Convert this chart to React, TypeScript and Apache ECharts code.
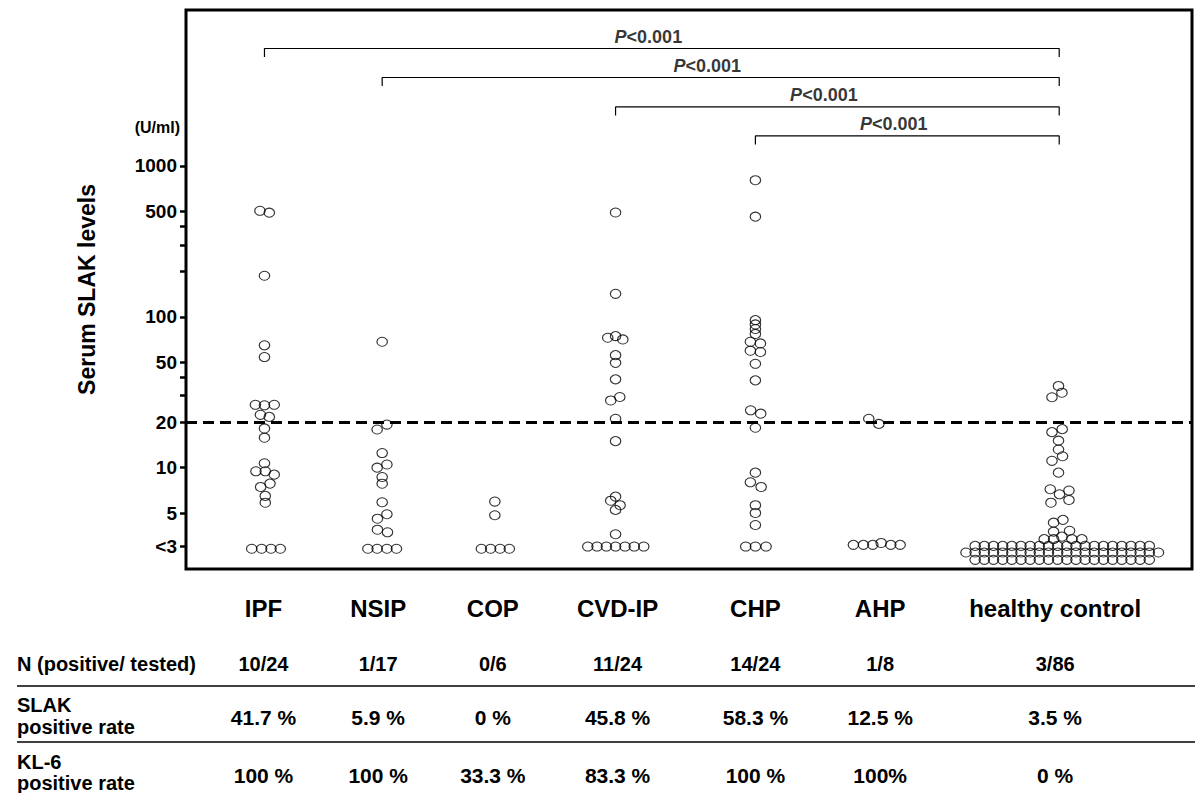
import React, { useEffect, useRef } from "react";
import * as echarts from "echarts";

const FONT = "'Liberation Sans', Arial, Helvetica, sans-serif";

// ---- data ----
const groupNames = ["IPF", "NSIP", "COP", "CVD-IP", "CHP", "AHP", "healthy control"];
const nPositiveTested = ["10/24", "1/17", "0/6", "11/24", "14/24", "1/8", "3/86"];
const slakPositiveRate = ["41.7 %", "5.9 %", "0 %", "45.8 %", "58.3 %", "12.5 %", "3.5 %"];
const kl6PositiveRate = ["100 %", "100 %", "33.3 %", "83.3 %", "100 %", "100%", "0 %"];

const yTickValues = [1000, 500, 100, 50, 20, 10, 5, 3];
const yMinorTickValues = [400, 300, 200, 40, 30];
const cutoff = 20;

// [horizontal offset within the column, serum SLAK (U/ml)]
const ipfPoints: [number, number][] = [
  [-0.45, 504], [0.48, 490], [0, 187], [0, 64.7], [0, 54.1],
  [-0.9, 26.1], [0, 25.9], [0.97, 26.1], [-0.4, 22.4], [0.48, 21.7],
  [0, 18.2], [0, 15.8], [0, 10.7], [-0.85, 9.46], [0.08, 9.46], [0.97, 8.99],
  [0.55, 7.84], [-0.38, 7.45], [0.08, 6.5], [0.08, 5.86],
  [-1.27, 2.9], [-0.28, 2.9], [0.65, 2.9], [1.57, 2.9],
];
const nsipPoints: [number, number][] = [
  [0, 68.3], [-0.5, 17.9], [0.47, 19.3], [0, 12.5], [-0.5, 10], [0.47, 10.5],
  [0, 8.67], [0, 7.83], [0, 5.9], [0.47, 4.91], [-0.47, 4.59], [-0.47, 3.88], [0.53, 3.73],
  [-1.42, 2.9], [-0.5, 2.9], [0.47, 2.9], [1.42, 2.9],
];
const copPoints: [number, number][] = [
  [0, 5.96], [0, 4.84], [-1.34, 2.9], [-0.42, 2.9], [0.52, 2.9], [1.44, 2.9],
];
const cvdIpPoints: [number, number][] = [
  [0, 491], [0, 142], [-0.78, 72.6], [0, 74.5], [0.72, 70.8], [0, 55.7], [0, 49.5], [0, 38.5],
  [-0.48, 27.9], [0.42, 29.4], [0, 21.1], [0, 15], [0, 6.43], [-0.48, 6.04], [0.45, 5.64],
  [0, 5.25], [0, 3.62],
  [-2.76, 3], [-1.84, 3], [-0.91, 3], [0, 3], [0.94, 3], [1.86, 3], [2.8, 3],
];
const chpPoints: [number, number][] = [
  [0, 804], [0, 461], [0, 95], [0, 89], [0, 83], [0, 77], [-0.5, 68.3], [0.5, 66.6],
  [-0.5, 59.6], [0.5, 58.4], [0, 48.8], [0, 37.9], [-0.47, 24.0], [0.53, 22.8], [0, 18.4],
  [0, 9.27], [-0.5, 8.0], [0.57, 7.45], [0, 5.64], [0, 5.01], [0, 4.17],
  [-0.96, 3], [0, 3], [1.06, 3],
];
const ahpPoints: [number, number][] = [
  [-0.83, 21.1], [0.17, 19.5],
  [-2.36, 3.08], [-1.36, 3.08], [-0.43, 3.08], [0.4, 3.17], [1.36, 3.08], [2.29, 3.08],
];
const hcPoints: [number, number][] = [
  [-0.37, 34.8], [-0.03, 31.4], [-1.02, 29.3],
  [0, 18.0], [-1.02, 17.2], [-0.37, 15.1], [-0.37, 13.2], [0.03, 11.9], [-1.02, 11.1], [-0.37, 9.27],
  [-1.19, 7.19], [-0.27, 6.66], [0.67, 7.05], [-1.12, 5.86], [0.67, 6.11],
  [0.07, 4.51], [-0.86, 4.32], [-0.86, 3.77], [0.73, 3.82],
  [-1.79, 3.36], [-0.86, 3.36], [-0.03, 3.49], [0.96, 3.36], [1.95, 3.36],
];
// "<3" healthy controls, stacked in three rows: [level, count]
const hcBelowDetectionRows: [number, number][] = [
  [3.03, 20], [2.74, 22], [2.45, 20],
];

// significance brackets: [from group, to group], level (U/ml)
const bracketPairs: [number, number][] = [[0, 6], [1, 6], [3, 6], [4, 6]];
const bracketLevels = [6000, 3855, 2462, 1580];

// ---- layout ----
const groupCenters = [7.8, 19.5, 30.7, 42.7, 56.6, 68.7, 87.1];
const columnCenters = [7.7, 19.1, 30.5, 42.9, 56.6, 69.0, 86.4];
const DOT_STEP = 0.911;
const BRACKET_TICK_RATIO = 0.878;

function buildOption() {
  const pointsByGroup = [ipfPoints, nsipPoints, copPoints, cvdIpPoints, chpPoints, ahpPoints, hcPoints];

  const dotStyle = {
    symbol: "circle",
    symbolSize: [10.5, 9],
    itemStyle: { color: "rgba(255,255,255,0)", borderColor: "#000", borderWidth: 1.1 },
  };

  const series: any[] = pointsByGroup.map((pts, gi) => ({
    type: "scatter",
    name: groupNames[gi],
    ...dotStyle,
    data: pts.map(([dx, v]) => [groupCenters[gi] + dx, v]),
    silent: true,
  }));

  const hcRowData: number[][] = [];
  hcBelowDetectionRows.forEach(([level, count]) => {
    for (let k = 0; k < count; k++) {
      hcRowData.push([groupCenters[6] + (k - (count - 1) / 2) * DOT_STEP, level]);
    }
  });
  series.push({ type: "scatter", name: "hc-base", ...dotStyle, data: hcRowData, silent: true });

  series[0].markLine = {
    silent: true,
    symbol: ["none", "none"],
    label: { show: false },
    lineStyle: { color: "#000", width: 3, type: [11, 6] },
    data: [{ yAxis: cutoff }],
  };

  bracketPairs.forEach(([a, b], i) => {
    const lvl = bracketLevels[i];
    const low = lvl * BRACKET_TICK_RATIO;
    series.push({
      type: "line",
      silent: true,
      showSymbol: false,
      symbol: "none",
      lineStyle: { color: "#000", width: 1.2 },
      data: [
        [groupCenters[a], low],
        [groupCenters[a], lvl],
        [groupCenters[b] - 0.3, lvl],
        [groupCenters[b] - 0.3, low],
      ],
    });
  });
  series.push({
    type: "scatter",
    silent: true,
    symbolSize: 0,
    data: bracketPairs.map(([a, b], i) => [(groupCenters[a] + groupCenters[b]) / 2, bracketLevels[i]]),
    label: {
      show: true,
      position: "top",
      distance: 3,
      offset: [-15, 0],
      formatter: "{i|P}<0.001",
      fontFamily: FONT,
      fontSize: 18,
      fontWeight: "bold",
      color: "#000",
      rich: {
        i: { fontFamily: FONT, fontSize: 18, fontWeight: "bold", fontStyle: "italic", color: "#000" },
      },
    },
  });

  const rowAxis = (labels: string[], offset: number, fontSize: number) => ({
    type: "value",
    min: 0,
    max: 100,
    position: "bottom",
    offset,
    axisLine: { show: false },
    axisTick: { show: false },
    splitLine: { show: false },
    axisLabel: {
      show: true,
      customValues: columnCenters,
      formatter: (v: number) => {
        const i = columnCenters.findIndex((c) => Math.abs(c - v) < 1e-6);
        return i >= 0 ? labels[i] : "";
      },
      margin: 0,
      verticalAlign: "middle",
      fontFamily: FONT,
      fontSize,
      fontWeight: "bold",
      color: "#000",
    },
  });

  const rowLabel = (text: string, y: number) => ({
    type: "text",
    x: 17,
    y,
    style: { text, font: `bold 20px ${FONT}`, fill: "#000", verticalAlign: "middle", align: "left" },
  });

  return {
    animation: false,
    backgroundColor: "#fff",
    textStyle: { fontFamily: FONT },
    grid: {
      left: 186,
      right: 3,
      top: 10,
      bottom: 224,
      show: true,
      borderColor: "#000",
      borderWidth: 3,
      backgroundColor: "rgba(0,0,0,0)",
    },
    xAxis: [
      rowAxis(groupNames, 39, 24),
      rowAxis(nPositiveTested, 95, 20),
      rowAxis(slakPositiveRate, 148, 21),
      rowAxis(kl6PositiveRate, 206, 21),
    ],
    yAxis: {
      type: "log",
      logBase: 10,
      min: 2.13,
      max: 10800,
      axisLine: { show: false },
      splitLine: { show: false },
      minorTick: { show: false },
      axisTick: {
        show: true,
        inside: false,
        length: 6,
        lineStyle: { color: "#000", width: 2.5 },
        customValues: [...yTickValues, ...yMinorTickValues],
      },
      axisLabel: {
        customValues: yTickValues,
        formatter: (v: number) => (Math.abs(v - 3) < 0.01 ? "<3" : String(Math.round(v))),
        margin: 9,
        fontFamily: FONT,
        fontSize: 19,
        fontWeight: "bold",
        color: "#000",
      },
      name: "Serum SLAK levels",
      nameLocation: "middle",
      nameGap: 88,
      nameRotate: 90,
      nameTextStyle: { fontFamily: FONT, fontSize: 23, fontWeight: "bold", color: "#000" },
    },
    graphic: [
      {
        type: "text",
        x: 180,
        y: 127,
        style: { text: "(U/ml)", font: `bold 16px ${FONT}`, fill: "#000", align: "right", verticalAlign: "middle" },
      },
      rowLabel("N (positive/ tested)", 664),
      rowLabel("SLAK", 705),
      rowLabel("positive rate", 727),
      rowLabel("KL-6", 762),
      rowLabel("positive rate", 783),
      { type: "line", shape: { x1: 17, y1: 686, x2: 1195, y2: 686 }, style: { stroke: "#000", lineWidth: 1.5 } },
      { type: "line", shape: { x1: 17, y1: 742, x2: 1195, y2: 742 }, style: { stroke: "#000", lineWidth: 1.5 } },
    ],
    series,
  };
}

export default function App() {
  const ref = useRef<HTMLDivElement>(null);
  useEffect(() => {
    if (!ref.current) return;
    const chart = echarts.init(ref.current, undefined, { renderer: "svg" });
    chart.setOption(buildOption() as any);
    return () => chart.dispose();
  }, []);
  return (
    <div
      ref={ref}
      style={{ position: "fixed", left: 0, top: 0, width: 1195, height: 793, background: "#fff" }}
    />
  );
}
